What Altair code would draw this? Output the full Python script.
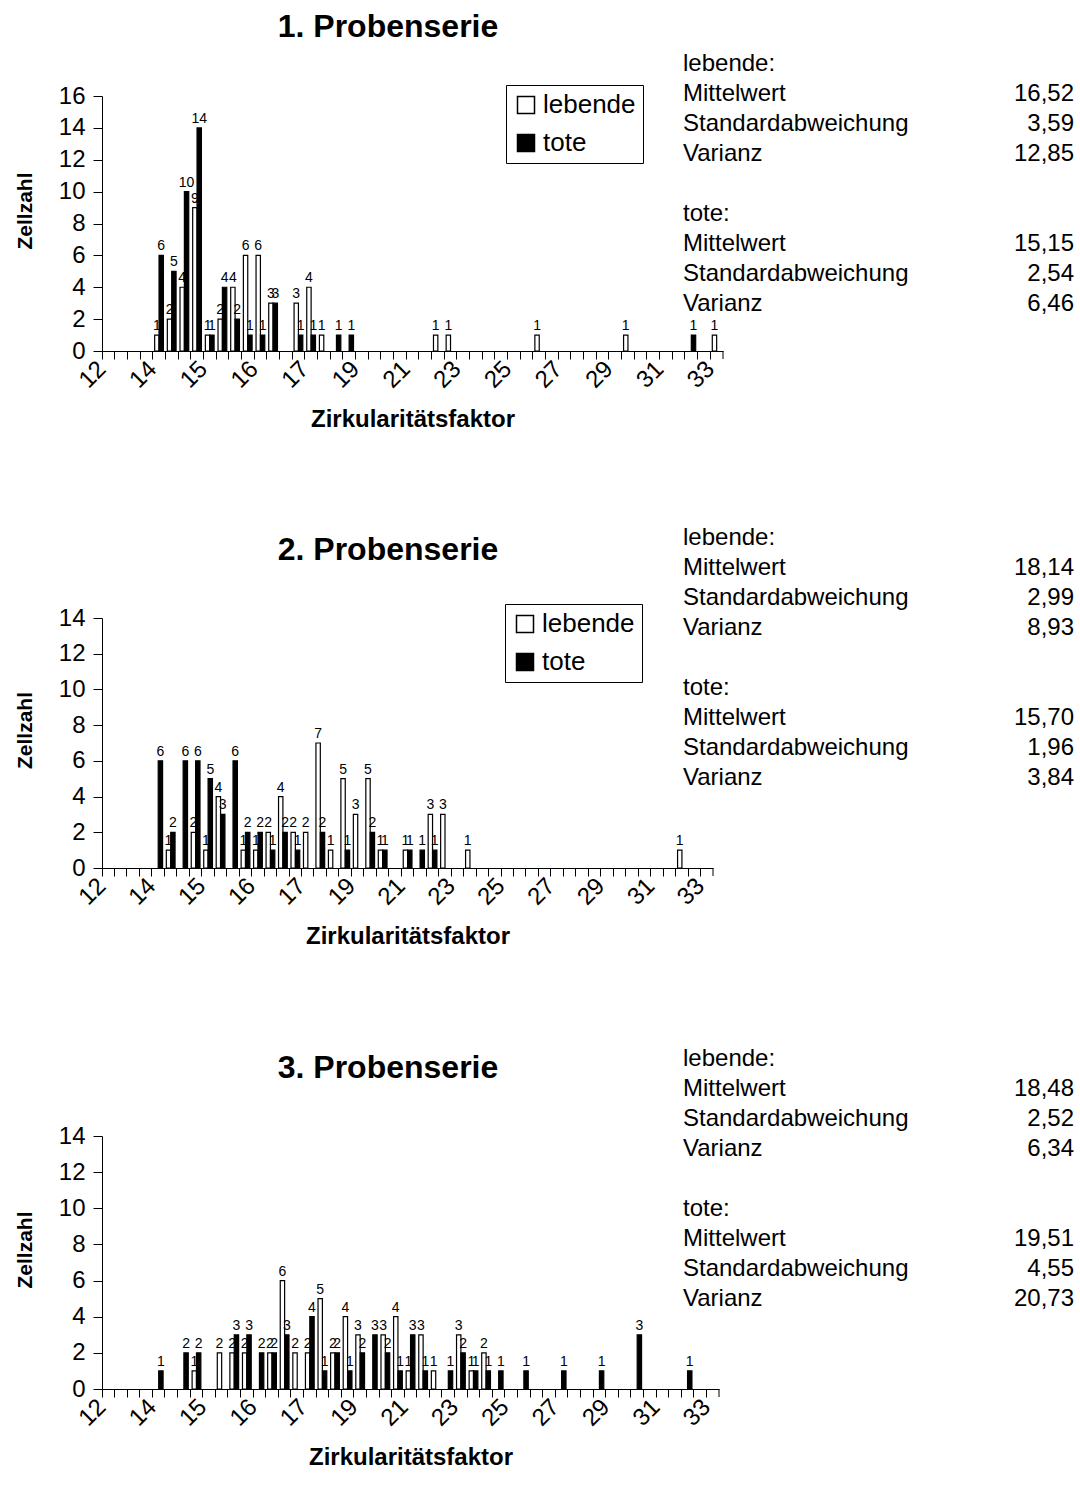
import json
import altair as alt
import pandas as pd

# ---------------- data ----------------
N_CAT = 49
# one label every 4th category (categories 0, 4, 8, ... 48)
TICK_LABELS = ["12", "14", "15", "16", "17", "19", "21", "23", "25", "27", "29", "31", "33"]
SERIES = ["lebende", "tote"]
STAT_NAMES_LEBENDE = ["lebende:", "Mittelwert", "Standardabweichung", "Varianz"]
STAT_NAMES_TOTE = ["tote:", "Mittelwert", "Standardabweichung", "Varianz"]

P1_TITLE = "1. Probenserie"
P1_LEBENDE = [0, 0, 0, 0, 1, 2, 4, 9, 1, 2, 4, 6, 6, 3, 0, 3, 4, 1, 0, 0,
              0, 0, 0, 0, 0, 0, 1, 1, 0, 0, 0, 0, 0, 0, 1, 0, 0, 0, 0, 0,
              0, 1, 0, 0, 0, 0, 0, 0, 1]
P1_TOTE = [0, 0, 0, 0, 6, 5, 10, 14, 1, 4, 2, 1, 1, 3, 0, 1, 1, 0, 1, 1,
           0, 0, 0, 0, 0, 0, 0, 0, 0, 0, 0, 0, 0, 0, 0, 0, 0, 0, 0, 0,
           0, 0, 0, 0, 0, 0, 1, 0, 0]
P1_STATS_LEBENDE = ["16,52", "3,59", "12,85"]
P1_STATS_TOTE = ["15,15", "2,54", "6,46"]

P2_TITLE = "2. Probenserie"
P2_LEBENDE = [0, 0, 0, 0, 0, 1, 0, 2, 1, 4, 0, 1, 1, 2, 4, 2, 2, 7, 1, 5,
              3, 5, 1, 0, 1, 0, 3, 3, 0, 1, 0, 0, 0, 0, 0, 0, 0, 0, 0, 0,
              0, 0, 0, 0, 0, 0, 1, 0, 0]
P2_TOTE = [0, 0, 0, 0, 6, 2, 6, 6, 5, 3, 6, 2, 2, 1, 2, 1, 0, 2, 0, 1,
           0, 2, 1, 0, 1, 1, 1, 0, 0, 0, 0, 0, 0, 0, 0, 0, 0, 0, 0, 0,
           0, 0, 0, 0, 0, 0, 0, 0, 0]
P2_STATS_LEBENDE = ["18,14", "2,99", "8,93"]
P2_STATS_TOTE = ["15,70", "1,96", "3,84"]

P3_TITLE = "3. Probenserie"
P3_LEBENDE = [0, 0, 0, 0, 0, 0, 0, 1, 0, 2, 2, 2, 0, 2, 6, 2, 2, 5, 2, 4,
              3, 0, 3, 4, 1, 3, 1, 0, 3, 1, 2, 0, 0, 0, 0, 0, 0, 0, 0, 0,
              0, 0, 0, 0, 0, 0, 0, 0, 0]
P3_TOTE = [0, 0, 0, 0, 1, 0, 2, 2, 0, 0, 3, 3, 2, 2, 3, 0, 4, 1, 2, 1,
           2, 3, 2, 1, 3, 1, 0, 1, 2, 1, 1, 1, 0, 1, 0, 0, 1, 0, 0, 1,
           0, 0, 3, 0, 0, 0, 1, 0, 0]
P3_STATS_LEBENDE = ["18,48", "2,52", "6,34"]
P3_STATS_TOTE = ["19,51", "4,55", "20,73"]

FONT = "Liberation Sans"
LABEL_EXPR = "datum.value % 4 == 0 ? " + json.dumps(TICK_LABELS) + "[datum.value / 4] : ''"
LINE_H = 30


def text_block(lines, x, y, align):
    df = pd.DataFrame({"t": ["\n".join(lines)]})
    return alt.Chart(df).mark_text(align=align, baseline="alphabetic", lineBreak="\n",
                                   lineHeight=LINE_H, fontSize=24, font=FONT,
                                   color="black").encode(
        text="t:N", x=alt.value(x), y=alt.value(y))


def panel(title, lebende, tote, st_leb, st_tot, ymax, width, height,
          stats_y, legend_x, legend_y, title_y):
    rows = []
    for i in range(N_CAT):
        rows.append({"cat": i, "series": SERIES[0], "n": lebende[i]})
        rows.append({"cat": i, "series": SERIES[1], "n": tote[i]})
    df = pd.DataFrame(rows)
    base = alt.Chart(df).transform_filter("datum.n > 0")

    x = alt.X("cat:O",
              scale=alt.Scale(domain=list(range(N_CAT)), paddingInner=0, paddingOuter=0),
              axis=alt.Axis(title="Zirkularitätsfaktor", bandPosition=0,
                            values=list(range(N_CAT)), labelExpr=LABEL_EXPR,
                            labelAngle=315, labelAlign="right", labelBaseline="middle",
                            labelOffset=-6, labelPadding=6, labelOverlap=False,
                            labelBound=False, labelFontSize=24, tickSize=8,
                            titleFontSize=24, titleFontWeight="bold", titlePadding=15))
    xo = alt.XOffset("series:N",
                     scale=alt.Scale(domain=SERIES, paddingInner=0, paddingOuter=0.45))
    y = alt.Y("n:Q", scale=alt.Scale(domain=[0, ymax], nice=False, zero=True),
              axis=alt.Axis(title="Zellzahl", values=list(range(0, ymax + 1, 2)),
                            tickSize=9, labelPadding=8, labelFontSize=24, grid=False,
                            titleFontSize=21, titleFontWeight="bold", titlePadding=23,
                            titleY=height / 2 - 13))

    bars = base.mark_bar(stroke="black", strokeWidth=1.2).encode(
        x=x, xOffset=xo, y=y,
        fill=alt.Fill("series:N",
                      scale=alt.Scale(domain=SERIES, range=["white", "black"]),
                      legend=alt.Legend(title=None, orient="none", legendX=legend_x,
                                        legendY=legend_y, direction="vertical",
                                        symbolType="square", symbolSize=289,
                                        symbolStrokeColor="black", symbolStrokeWidth=1.5,
                                        labelFontSize=26, labelFont=FONT, labelColor="black",
                                        strokeColor="black", fillColor="white",
                                        padding=7, rowPadding=12, labelOffset=4)))
    labels = base.mark_text(baseline="bottom", dy=-2, fontSize=14, font=FONT,
                            color="black").encode(x=x, xOffset=xo, y=y, text="n:Q")

    end_tick = alt.Chart(pd.DataFrame({"k": [0]})).mark_rule(color="black").encode(
        x=alt.value(width), y=alt.value(height), y2=alt.value(height + 8))

    names_a = text_block(STAT_NAMES_LEBENDE, 581, stats_y, "left")
    names_b = text_block(STAT_NAMES_TOTE, 581, stats_y + 5 * LINE_H, "left")
    vals_a = text_block(st_leb, 972, stats_y + LINE_H, "right")
    vals_b = text_block(st_tot, 972, stats_y + 6 * LINE_H, "right")

    ttl = alt.Chart(pd.DataFrame({"t": [title]})).mark_text(
        align="center", baseline="alphabetic", fontSize=32, fontWeight="bold",
        font=FONT, color="black").encode(
        text="t:N", x=alt.value(286), y=alt.value(title_y))

    return alt.layer(bars, labels, end_tick, names_a, names_b, vals_a, vals_b,
                     ttl).properties(width=width, height=height)


p1 = panel(P1_TITLE, P1_LEBENDE, P1_TOTE, P1_STATS_LEBENDE, P1_STATS_TOTE, 16, 621, 255,
           -25, 404, -11, -59)
p2 = panel(P2_TITLE, P2_LEBENDE, P2_TOTE, P2_STATS_LEBENDE, P2_STATS_TOTE, 14, 611, 250,
           -73, 403, -14, -58)
p3 = panel(P3_TITLE, P3_LEBENDE, P3_TOTE, P3_STATS_LEBENDE, P3_STATS_TOTE, 14, 617, 253,
           -70, 398, -16, -58)

chart = alt.vconcat(
    p1,
    alt.vconcat(p2, p3, spacing=98),
    spacing=94,
).resolve_scale(
    x="independent", y="independent", fill="independent"
).properties(
    padding={"left": 14, "top": 11, "right": 2, "bottom": 5},
    background="white",
).configure(font=FONT).configure_view(stroke=None).configure_axis(
    labelColor="black", titleColor="black", domainColor="black", tickColor="black",
    labelFont=FONT, titleFont=FONT, domainWidth=1, tickWidth=1)

chart.save("out.html", embed_options={"renderer": "svg", "actions": False})
